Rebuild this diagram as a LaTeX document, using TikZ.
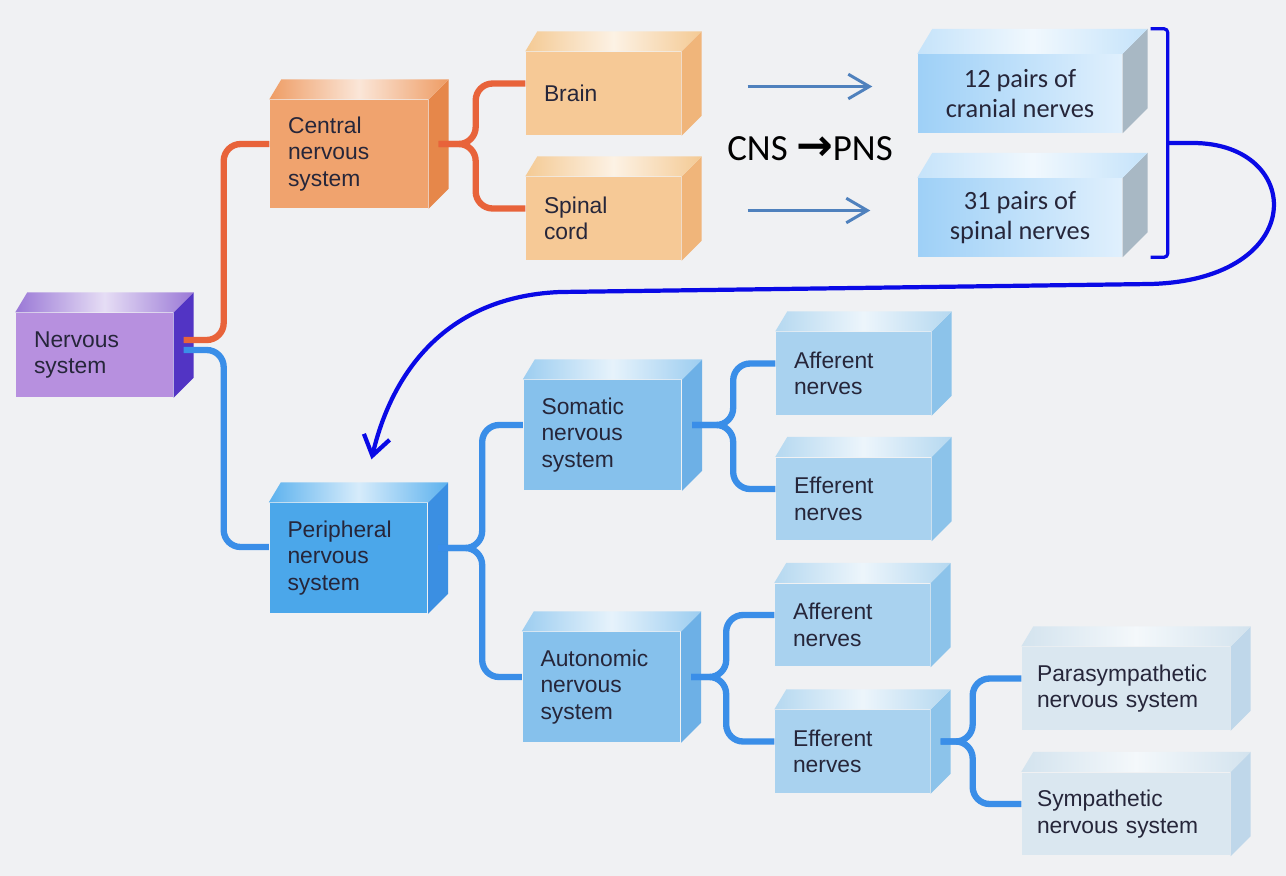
\documentclass[tikz,border=0pt]{standalone}
\usepackage{fontspec}
\setmainfont{Liberation Sans}
\newfontfamily\calibri{Carlito}
\newfontfamily\arrowfont{DejaVu Sans}
\usepackage{tikz}
\usepackage{xcolor}
\usetikzlibrary{arrows.meta,calc}

\definecolor{bgcol}{HTML}{F0F1F3}
\definecolor{textdark}{HTML}{26263A}
\definecolor{frontpurple}{HTML}{B790DF}
\definecolor{toppurple}{HTML}{9A78D6}
\definecolor{sidepurple}{HTML}{5234C4}
\definecolor{frontorange}{HTML}{F0A36E}
\definecolor{toporange}{HTML}{EE9C64}
\definecolor{sideorange}{HTML}{E6874A}
\definecolor{fronttan}{HTML}{F6C996}
\definecolor{toptan}{HTML}{F4CA94}
\definecolor{sidetan}{HTML}{F0B57A}
\definecolor{frontdeep}{HTML}{4BA7EA}
\definecolor{topdeep}{HTML}{5DB2EE}
\definecolor{sidedeep}{HTML}{3B8FE2}
\definecolor{frontmid}{HTML}{86C1EC}
\definecolor{topmid}{HTML}{9CCDF0}
\definecolor{sidemid}{HTML}{6DB0E6}
\definecolor{frontlight}{HTML}{A9D2EF}
\definecolor{toplight}{HTML}{B5D8F0}
\definecolor{sidelight}{HTML}{8CC3EA}
\definecolor{frontpale}{HTML}{DAE7F0}
\definecolor{toppale}{HTML}{D3E3EE}
\definecolor{sidepale}{HTML}{BFD7EA}
\definecolor{pairsleft}{HTML}{9ED0F7}
\definecolor{pairsright}{HTML}{E0F0FD}
\definecolor{toppairs}{HTML}{C5E3FA}
\definecolor{sidepairs}{HTML}{A8B8C4}
\definecolor{orangewire}{HTML}{E8633A}
\definecolor{bluewire}{HTML}{3A8EE8}
\definecolor{steel}{HTML}{4F81BD}
\definecolor{loopblue}{HTML}{0A0AE6}

\begin{document}
\begin{tikzpicture}[x=0.02cm, y=-0.02cm, thick]
        \tikzset{
            cube/.style={fill=front#1, rectangle, align=left, inner xsep=0.36cm, inner ysep=0pt, text=textdark, font=\fontsize{13}{15}\selectfont},
            bigbox/.style={text width=2.44cm, minimum height=2.2cm},
            smallbox/.style={text width=2.38cm, minimum height=1.66cm},
            widebox/.style={inner xsep=0.3cm, text width=3.56cm, minimum height=1.66cm},
            pairbox/.style={rectangle, left color=pairsleft, right color=pairsright, minimum width=4.08cm, minimum height=1.56cm, align=center, text=textdark, font=\calibri\fontsize{15}{17}\selectfont},
            wire/.style={line width=3.6pt, rounded corners=0.34cm},
            cnsarrow/.style={draw=steel, line width=1.7pt, -{Straight Barb[length=12pt, width=14pt]}},
            feedback/.style={draw=loopblue, line width=2.4pt, -{Straight Barb[length=11pt, width=15pt]}}
        }

        \useasboundingbox (0,0) rectangle (1286,876);
        \fill [bgcol] (0,0) rectangle (1286,876);

        % Root
        \node [cube=purple, text width=2.42cm, minimum height=1.68cm] (nervous) at (94.5,355) {Nervous\\system};

        % Central nervous system
        \node [cube=orange, bigbox, minimum height=2.16cm] (cns) at (349,154) {Central\\nervous\\system};
        \node [cube=tan, smallbox] (brain) at (603.5,93.5) {Brain};
        \node [cube=tan, smallbox] (spinal) at (603.5,218.5) {Spinal\\cord};

        % Peripheral nervous system
        \node [cube=deep, bigbox] (pns) at (348.5,558) {Peripheral\\nervous\\system};
        \node [cube=mid, bigbox] (somatic) at (602.5,435) {Somatic\\nervous\\system};
        \node [cube=mid, bigbox] (autonomic) at (601.5,687) {Autonomic\\nervous\\system};
        \node [cube=light, smallbox] (safferent) at (853.5,373.5) {Afferent\\nerves};
        \node [cube=light, smallbox] (sefferent) at (853.5,499) {Efferent\\nerves};
        \node [cube=light, smallbox] (aafferent) at (852.5,625) {Afferent\\nerves};
        \node [cube=light, smallbox] (aefferent) at (852.5,751.5) {Efferent\\nerves};
        \node [cube=pale, widebox] (para) at (1126,688.5) {Parasympathetic\\nervous system};
        \node [cube=pale, widebox] (symp) at (1126,814) {Sympathetic\\nervous system};

        % Cranial and spinal nerves
        \node [pairbox] (cranial) at (1020,93.5) {12 pairs of\\cranial nerves};
        \node [pairbox] (spinalnerves) at (1020,217.5) {31 pairs of\\spinal nerves};

        % Side and top faces of the boxes
        \foreach \n/\t/\d in {nervous/purple/20, cns/orange/20, brain/tan/20, spinal/tan/20, pns/deep/20, somatic/mid/20, autonomic/mid/20, safferent/light/20, sefferent/light/20, aafferent/light/20, aefferent/light/20, para/pale/20, symp/pale/20, cranial/pairs/25, spinalnerves/pairs/25} {
            \fill [side\t] (\n.north east) -- ++(\d,-\d) -- ([shift={(\d,-\d)}]\n.south east) -- (\n.south east) -- cycle;
            \shade [left color=top\t, right color=top\t, middle color=white!75!top\t] (\n.north west) -- ++({0.6*\d},-\d) -- ([shift={(\d,-\d)}]\n.north east) -- (\n.north east) -- cycle;
        }

        % Nervous system split
        \draw [wire, orangewire] ([shift={(10,-15)}]nervous.east) -- ++(40,0) |- ([shift={(0,-10)}]cns.west);
        \draw [wire, bluewire] ([shift={(10,-5)}]nervous.east) -- ++(40,0) |- ([shift={(0,-11)}]pns.west);

        % CNS branches
        \draw [wire, orangewire] ([shift={(10,-10)}]cns.east) -- ++(37,0) |- ([shift={(0,-10)}]brain.west);
        \draw [wire, orangewire] ([shift={(10,-10)}]cns.east) -- ++(37,0) |- ([shift={(0,-10)}]spinal.west);

        % PNS branches
        \foreach \s/\a/\b/\l in {pns/somatic/autonomic/44, somatic/safferent/sefferent/41, autonomic/aafferent/aefferent/35, aefferent/para/symp/32} {
            \draw [wire, bluewire] ([shift={(10,-10)}]\s.east) -- ++(\l,0) |- ([shift={(0,-10)}]\a.west);
            \draw [wire, bluewire] ([shift={(10,-10)}]\s.east) -- ++(\l,0) |- ([shift={(0,-10)}]\b.west);
        }

        % CNS -> PNS
        \draw [cnsarrow] ([shift={(66,-7)}]brain.east) -- ([shift={(-45,-7)}]cranial.west);
        \draw [cnsarrow] ([shift={(66,-8)}]spinal.east) -- ([shift={(-47,-7)}]spinalnerves.west);
        \node [font=\calibri\fontsize{21}{25}\selectfont, text=black] (cnspns) at (810,149) {CNS {\arrowfont\bfseries\fontsize{25}{25}\selectfont →}PNS};

        % Bracket and loop back to the PNS
        \coordinate (brtop) at ([shift={(45,-25)}]cranial.north east);
        \coordinate (brbot) at ([shift={(45,0)}]spinalnerves.south east);
        \coordinate (brmid) at ($(brtop)!0.5!(brbot)$);
        \draw [loopblue, line width=1.8pt, rounded corners=2pt] ([shift={(-17,0)}]brtop) -- (brtop) -- (brbot) -- ([shift={(-17,0)}]brbot);
        \draw [feedback] (brmid) -- ++(25,0) .. controls (1305,143) and (1310,280) .. (1150,284) -- (560,292) .. controls (440,297) and (390,380) .. ([shift={(23,-43)}]pns.north);
\end{tikzpicture}
\end{document}
